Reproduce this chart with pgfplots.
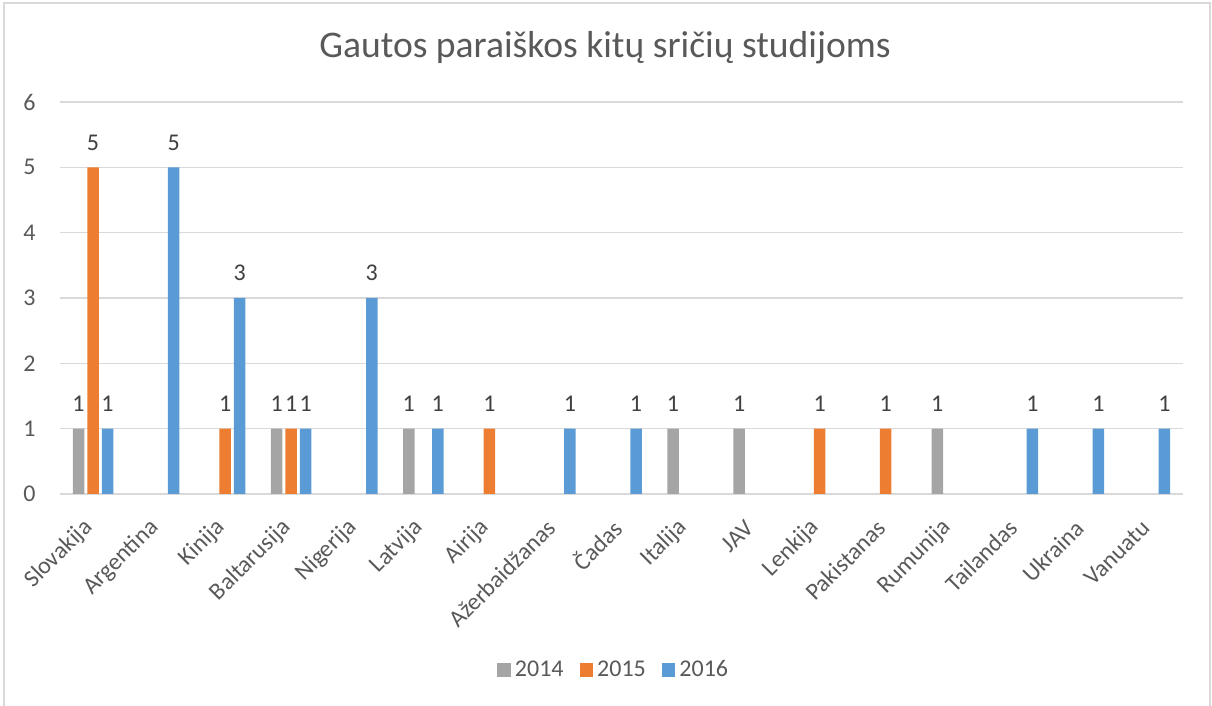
\documentclass[border=0pt]{standalone}
\usepackage{fontspec}
\setmainfont{Carlito}
\usepackage{pgfplots}
\pgfplotsset{compat=1.18}

\definecolor{gray14}{HTML}{A5A5A5}
\definecolor{orange15}{HTML}{ED7D31}
\definecolor{blue16}{HTML}{5B9BD5}
\definecolor{gridcol}{HTML}{D9D9D9}
\definecolor{txtcol}{HTML}{595959}
\definecolor{labcol}{HTML}{404040}

\begin{document}
\begin{tikzpicture}
\begin{axis}[
    at={(30pt,106pt)}, anchor=south west,
    width=561.5pt, height=196pt, scale only axis,
    xmin=-0.5, xmax=16.5,
    ymin=0, ymax=6,
    ybar, bar width=5.75pt,
    axis line style={draw=none},
    major tick length=0pt,
    ymajorgrids, grid style={gridcol, line width=0.75pt},
    ytick={0,1,2,3,4,5,6},
    xtick={0,...,16},
    xticklabels={Slovakija,Argentina,Kinija,Baltarusija,Nigerija,Latvija,Airija,Ažerbaidžanas,Čadas,Italija,JAV,Lenkija,Pakistanas,Rumunija,Tailandas,Ukraina,Vanuatu},
    /pgf/number format/assume math mode=true,
    ticklabel style={font=\fontsize{12}{14}\selectfont, text=txtcol},
    yticklabel style={anchor=east, inner sep=0pt, xshift=-12pt},
    xticklabel style={yshift=-15pt, xshift=-2pt, rotate=45, anchor=east, inner sep=0pt},
    nodes near coords,
    nodes near coords style={anchor=base, inner sep=0pt, yshift=8.5pt,
        text=labcol, font=\fontsize{12}{14}\selectfont},
    legend columns=-1,
    legend style={draw=none, at={(0.494,-0.449)}, anchor=center,
        font=\fontsize{12}{14}\selectfont, text=txtcol,
        /tikz/every even column/.append style={column sep=6pt}},
    legend image code/.code={\fill[#1, draw=none] (0pt,-3.4pt) rectangle (6.8pt,3.4pt);},
]
\addplot[fill=gray14, draw=none, bar shift=-7.25pt]
    coordinates {(0,1) (3,1) (5,1) (9,1) (10,1) (13,1)};
\addlegendentry{2014}
\addplot[fill=orange15, draw=none, bar shift=0pt]
    coordinates {(0,5) (2,1) (3,1) (6,1) (11,1) (12,1)};
\addlegendentry{2015}
\addplot[fill=blue16, draw=none, bar shift=7.25pt]
    coordinates {(0,1) (1,5) (2,3) (3,1) (4,3) (5,1) (7,1) (8,1) (14,1) (15,1) (16,1)};
\addlegendentry{2016}
\end{axis}
\draw[gridcol, line width=0.75pt] (2pt,-10pt) -- (2pt,351.5pt) -- (605pt,351.5pt) -- (605pt,-10pt);
\node[anchor=base, text=txtcol, font=\fontsize{18.8}{22}\selectfont] at (302.5pt,324pt)
    {Gautos paraiškos kitų sričių studijoms};
\pgfresetboundingbox
\path[use as bounding box] (0,0) rectangle (606pt,353pt);
\end{tikzpicture}
\end{document}
